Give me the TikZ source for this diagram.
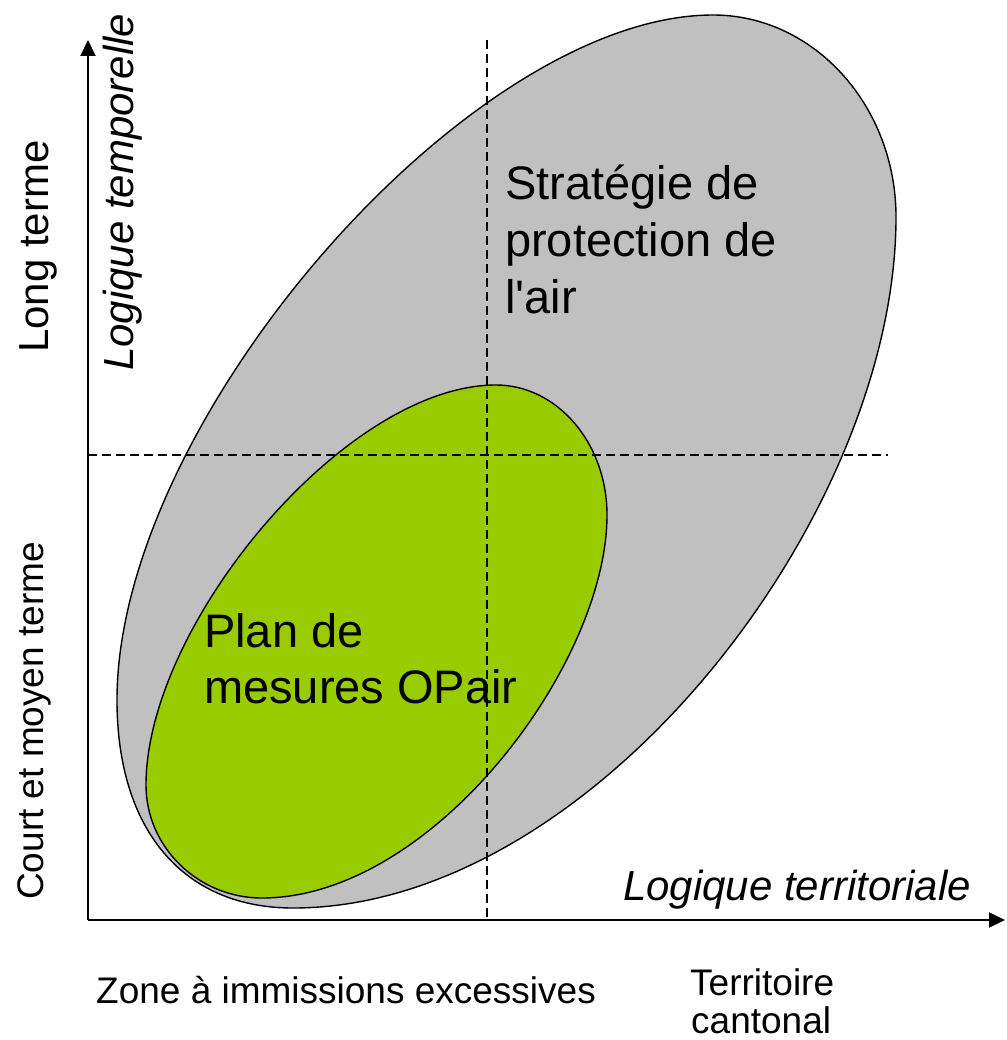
\documentclass[tikz,border=0pt]{standalone}
\usepackage{fontspec}
\setmainfont{Liberation Sans}[Ligatures=TeXOff]
\usetikzlibrary{arrows.meta}
\definecolor{blobgray}{RGB}{192,192,192}
\definecolor{blobgreen}{RGB}{153,204,0}
\tikzset{
  blob/.style={draw=black, line width=1.4pt},
  axis/.style={line width=2pt, -{Triangle[length=16pt,width=15pt]}},
  guide/.style={line width=1.4pt, dash pattern=on 9pt off 5pt},
  lbl/.style={inner sep=0pt, anchor=base west},
  big/.style={lbl, font=\fontsize{47}{57}\selectfont},
  axlbl/.style={lbl, font=\fontsize{42}{50}\selectfont},
  small/.style={lbl, font=\fontsize{37}{44}\selectfont}
}
\begin{document}
\begin{tikzpicture}[x=1pt, y=-1pt]
\useasboundingbox (0,0) rectangle (1006,1040);
% grey region
\draw[blob, fill=blobgray]
  (713,15) .. controls (814,15) and (896,106) .. (896,217)
  .. controls (896,517) and (593,908) .. (293,908)
  .. controls (183,908) and (117,830) .. (117,700)
  .. controls (117,420) and (470,15) .. (713,15) -- cycle;
% green region
\draw[blob, fill=blobgreen]
  (496,385) .. controls (557,385) and (607,443) .. (607,515)
  .. controls (607,665) and (432,898) .. (262,898)
  .. controls (198,898) and (146,847) .. (146,785)
  .. controls (146,625) and (345,385) .. (496,385) -- cycle;
% guides
\coordinate (vtop) at (487,40);
\coordinate (vbot) at (487,920);
\coordinate (hleft) at (88,455);
\coordinate (hright) at (888,455);
\draw[guide] (vtop) -- (vbot);
\draw[guide] (hleft) -- (hright);
% axes
\coordinate (O) at (88,920);
\coordinate (ytop) at (88,40);
\coordinate (xend) at (1005,920);
\draw[axis] (O) -- (ytop);
\draw[axis] (O) -- (xend);
% labels
\node[big] (s1) at (505,200) {Stratégie de};
\node[big] (s2) at (505,257) {protection de};
\node[big] (s3) at (505,313) {l'air};
\node[big] (p1) at (204,647) {Plan de};
\node[big] (p2) at (204,703) {mesures OPair};
\node[axlbl, font=\fontsize{42}{50}\selectfont\itshape] (lt) at (623,900) {Logique territoriale};
\node[axlbl, rotate=90] (lterm) at (48,353) {Long terme};
\node[axlbl, rotate=90, font=\fontsize{42}{50}\selectfont\itshape] (ltemp) at (133,371) {Logique temporelle};
\node[small, rotate=90] (court) at (43,900) {Court et moyen terme};
\node[small] (zone) at (96,1003) {Zone à immissions excessives};
\node[small] (terr1) at (690,995) {Territoire};
\node[small] (terr2) at (691,1033) {cantonal};
\end{tikzpicture}
\end{document}
